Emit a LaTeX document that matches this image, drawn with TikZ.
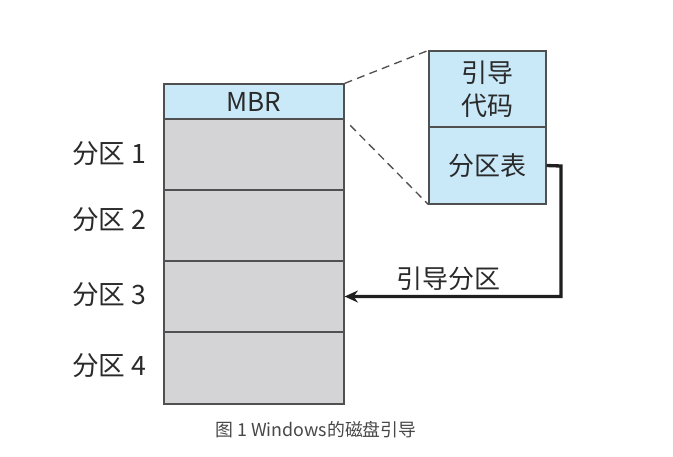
\documentclass[tikz,border=0pt]{standalone}
\usepackage{fontspec}
\setmainfont{Noto Sans CJK SC}
\usetikzlibrary{arrows.meta}
\definecolor{mbrblue}{HTML}{C9E9F9}
\definecolor{partgray}{HTML}{D4D4D6}
\definecolor{edgegray}{HTML}{505050}
\definecolor{textgray}{HTML}{2A2A2A}
\tikzset{
  cell/.style={draw=edgegray, line width=0.9pt, minimum width=135pt, inner sep=0pt, text=textgray, font=\fontsize{19.5}{22}\selectfont},
  partcell/.style={cell, fill=partgray, minimum height=53.25pt},
  bluecell/.style={cell, fill=mbrblue},
  partlabel/.style={text=textgray, font=\fontsize{20}{22}\selectfont, anchor=east},
  zoomline/.style={draw=edgegray, line width=1pt, dash pattern=on 6pt off 4pt},
  bootarrow/.style={line width=2.5pt, draw=black!88, -{Stealth[length=10pt, width=9pt]}}
}
\begin{document}
\begin{tikzpicture}[x=0.75pt, y=-0.75pt]
    \useasboundingbox (0,0) rectangle (673,456);

    % disk layout
    \node (mbr) at (254, 101.5) [bluecell, minimum height=26.25pt] {MBR};
    \node (p1)  at (254, 154.5) [partcell] {};
    \node (p2)  at (254, 225.5) [partcell] {};
    \node (p3)  at (254, 296.5) [partcell] {};
    \node (p4)  at (254, 368)   [partcell, minimum height=54pt] {};

    \node (l1) at (151, 154) [partlabel] {分区 1};
    \node (l2) at (151, 220) [partlabel] {分区 2};
    \node (l3) at (151, 295) [partlabel] {分区 3};
    \node (l4) at (151, 366) [partlabel] {分区 4};

    % MBR zoomed in
    \node (code) at (487.5, 89)    [bluecell, minimum width=87.75pt, minimum height=57pt, align=center,
                                    font=\fontsize{19.5}{25}\selectfont] {引导\\代码};
    \node (tbl)  at (487.5, 165.5) [bluecell, minimum width=87.75pt, minimum height=57.75pt] {分区表};

    \draw[zoomline] (mbr.north east) -- (code.north west);
    \draw[zoomline, shorten <=6pt] (mbr.south east) -- (tbl.south west);

    % boot partition
    \coordinate (turn) at (561, 166);
    \draw[bootarrow] (tbl.east) -- (turn) |- (p3.east);
    \node (boot) at (448, 279) [text=textgray, font=\fontsize{19.5}{22}\selectfont] {引导分区};

    \node (cap) at (316, 430) [text=black!72, font=\fontsize{13.4}{15}\selectfont] {图 1 Windows的磁盘引导};
\end{tikzpicture}
\end{document}
